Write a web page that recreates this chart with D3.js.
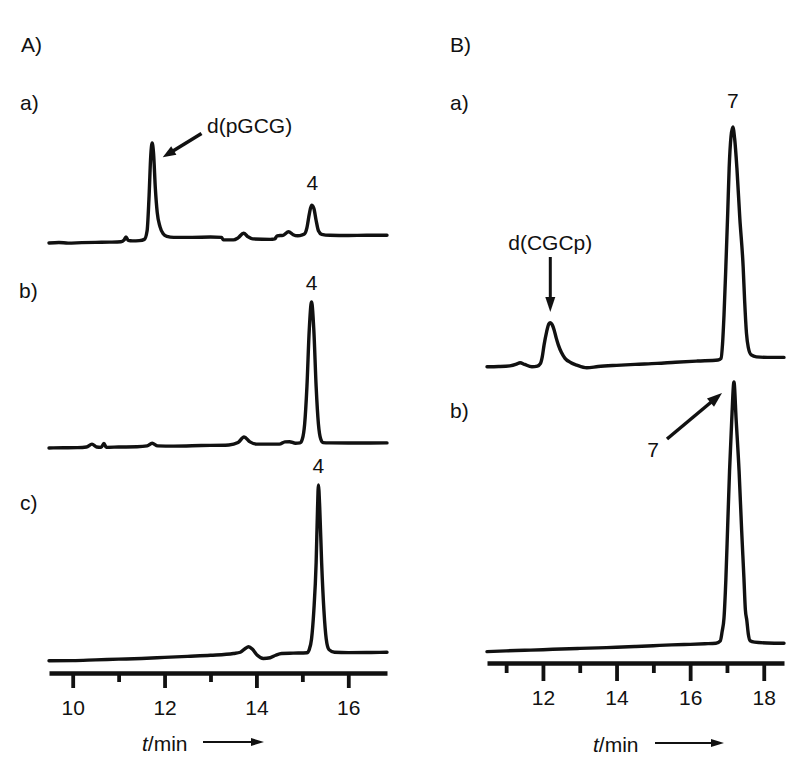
<!DOCTYPE html>
<html><head><meta charset="utf-8">
<script src="https://cdn.jsdelivr.net/npm/d3@7"></script>
<style>
html,body{margin:0;padding:0;background:#fff;}
svg text{font-family:"Liberation Sans",Arial,Helvetica,sans-serif;fill:#111;}
</style></head>
<body><svg id="chart" width="800" height="769"></svg>
<script>
// ---------- data ----------
const panelLabels = ["A)", "B)"];
const traceLabelsA = ["a)", "b)", "c)"];
const traceLabelsB = ["a)", "b)"];
const majorTicksA = [10, 12, 14, 16];
const minorTicksA = [11, 13, 15];
const majorTicksB = [12, 14, 16, 18];
const minorTicksB = [11, 13, 15, 17];
const axisTitle = "min";
// traces: [t (min), signal (relative units, 0-100)]
const traceAa = [[9.484,2],[9.7,2.5],[9.9,1.8],[10.2,2.3],[10.5,2.6],[10.8,2.8],[11.05,3.2],[11.12,5],[11.16,8],[11.21,4.5],[11.3,4],[11.45,4.3],[11.56,5.5],[11.62,14],[11.66,45],[11.7,88],[11.73,100],[11.76,90],[11.8,55],[11.84,32],[11.9,18],[11.97,11],[12.05,8.5],[12.2,7.5],[12.6,7.5],[13.0,7.8],[13.24,7.5],[13.28,5],[13.5,5],[13.6,7],[13.72,11.5],[13.82,8],[13.92,6],[14.3,5.5],[14.4,6],[14.45,9],[14.58,9.5],[14.7,13],[14.8,10],[14.9,9],[15.0,10],[15.05,11],[15.1,17],[15.15,30],[15.2,39],[15.25,36],[15.3,24],[15.35,14],[15.42,10.5],[15.6,9.5],[16.0,9.3],[16.4,9.5],[16.843,9.5]];
const traceAb = [[9.484,1.4],[9.8,1.5],[10.1,1.6],[10.3,2],[10.42,4],[10.52,2],[10.62,1.8],[10.68,4.5],[10.73,1.8],[11.0,2],[11.4,2.2],[11.62,2.8],[11.73,4.6],[11.85,2.8],[12.2,2.6],[12.8,3],[13.4,3.4],[13.6,5],[13.73,8.8],[13.86,5.5],[14.0,4],[14.5,4],[14.62,5.5],[14.72,5.6],[14.85,4.6],[14.95,4.8],[15.0,7.4],[15.05,17.5],[15.1,43],[15.15,81],[15.2,100],[15.25,81],[15.3,43],[15.35,17.5],[15.4,7.4],[15.45,5],[15.6,4.8],[16.0,4.7],[16.843,4.8]];
const traceAc = [[9.484,0.7],[10,0.8],[10.5,1.2],[11,1.6],[11.5,2],[12,2.6],[12.5,3.2],[13,3.8],[13.5,4.8],[13.65,5.5],[13.75,7.5],[13.83,8.6],[13.92,7],[14.02,3.8],[14.15,2],[14.3,2.4],[14.42,3.8],[14.55,4.8],[14.8,5],[15.1,5.2],[15.15,7],[15.2,13],[15.25,29],[15.3,56],[15.33,86],[15.35,100],[15.38,86],[15.42,56],[15.47,29],[15.52,13],[15.58,7],[15.7,5.5],[16,5.3],[16.5,5.4],[16.843,5.5]];
const traceBa = [[10.48,0.5],[10.8,0.6],[11.1,0.9],[11.28,1.6],[11.38,2.2],[11.5,1.5],[11.7,0.5],[11.85,0.8],[11.93,1.8],[11.98,4.5],[12.03,9.5],[12.1,15],[12.16,18.3],[12.2,18.8],[12.25,18],[12.3,16],[12.36,12.5],[12.42,9.5],[12.5,6.5],[12.6,4],[12.75,2.3],[12.92,1.2],[13.19,0.1],[13.5,0.6],[14.0,1.1],[14.5,1.5],[15.1,1.9],[15.6,2.4],[16.2,2.9],[16.76,3.3],[16.84,4],[16.88,10],[16.92,22],[16.97,42],[17.02,64],[17.06,83],[17.11,96],[17.16,100],[17.21,95],[17.27,83],[17.35,62],[17.44,42],[17.48,28],[17.53,14.5],[17.58,8.5],[17.66,5.4],[17.8,4.6],[18.1,4.4],[18.55,4.4]];
const traceBb = [[10.48,0.5],[11,0.8],[11.5,1],[12,1.2],[12.5,1.5],[13,1.7],[13.5,1.9],[14,2.1],[14.5,2.4],[15,2.7],[15.5,3],[16,3.2],[16.4,3.4],[16.7,3.6],[16.82,4.5],[16.87,8],[16.92,13],[16.97,27],[17.02,47],[17.07,67],[17.13,86],[17.19,100],[17.25,86],[17.33,67],[17.4,45],[17.46,28],[17.5,16],[17.54,12],[17.58,7],[17.63,4.5],[17.75,4],[18.1,3.7],[18.55,3.6]];
const annotA = ["d(pGCG)", "4", "4", "4"];
const annotB = ["d(CGCp)", "7", "7"];

// ---------- layout ----------
const svg = d3.select("#chart");
svg.append("rect").attr("width",800).attr("height",769).attr("fill","#fff");
const FS = 21;
const xA = d3.scaleLinear().domain([9.484,16.843]).range([49,387]);
const xB = d3.scaleLinear().domain([10.48,18.55]).range([487,784]);
const yAa = d3.scaleLinear().domain([0,100]).range([245,143]);
const yAb = d3.scaleLinear().domain([0,100]).range([450,302]);
const yAc = d3.scaleLinear().domain([0,100]).range([662,485]);
const yBa = d3.scaleLinear().domain([0,100]).range([368,127]);
const yBb = d3.scaleLinear().domain([0,100]).range([653,382]);

function drawTrace(data, x, y){
  const line = d3.line().x(d=>x(d[0])).y(d=>y(d[1])).curve(d3.curveMonotoneX);
  svg.append("path").datum(data).attr("d",line)
    .attr("fill","none").attr("stroke","#111").attr("stroke-width",3.4)
    .attr("stroke-linejoin","round").attr("stroke-linecap","round");
}
drawTrace(traceAa,xA,yAa); drawTrace(traceAb,xA,yAb); drawTrace(traceAc,xA,yAc);
drawTrace(traceBa,xB,yBa); drawTrace(traceBb,xB,yBb);

function drawAxis(x, yPos, major, minor, majLen, minLen){
  const gMin = svg.append("g").attr("transform",`translate(0,${yPos})`)
    .call(d3.axisBottom(x).tickValues(minor).tickSize(minLen).tickSizeOuter(0).tickFormat(""));
  gMin.select(".domain").remove();
  const g = svg.append("g").attr("transform",`translate(0,${yPos})`)
    .call(d3.axisBottom(x).tickValues(major).tickSize(majLen).tickSizeOuter(0).tickPadding(26));
  g.select(".domain").attr("stroke","#111").attr("stroke-width",4.5);
  svg.selectAll(".tick line").attr("stroke","#111").attr("stroke-width",3.8);
  g.selectAll(".tick text").attr("font-size",FS).attr("fill","#111")
    .attr("font-family","Liberation Sans, Arial, sans-serif").attr("dy",0).attr("y",42);
}
drawAxis(xA, 673, majorTicksA, minorTicksA, 15, 9);
drawAxis(xB, 663, majorTicksB, minorTicksB, 18, 10);

function arrow(x1,y1,x2,y2,w,hl,hw){
  const a = Math.atan2(y2-y1,x2-x1), c=Math.cos(a), s=Math.sin(a);
  const bx = x2 - hl*c, by = y2 - hl*s;
  svg.append("line").attr("x1",x1).attr("y1",y1).attr("x2",bx+ c*1).attr("y2",by+ s*1)
    .attr("stroke","#111").attr("stroke-width",w);
  svg.append("path").attr("d",`M${x2},${y2}L${bx - s*hw/2},${by + c*hw/2}L${bx + s*hw/2},${by - c*hw/2}Z`)
    .attr("fill","#111");
}
function text(t, x, y, anchor){
  return svg.append("text").attr("x",x).attr("y",y).attr("font-size",FS)
    .attr("text-anchor",anchor||"start").text(t);
}
// axis titles
function axisTitleAt(x, y, ax1, ax2){
  const t = svg.append("text").attr("x",x).attr("y",y).attr("font-size",FS);
  t.append("tspan").attr("font-style","italic").text("t");
  t.append("tspan").text("/" + axisTitle);
  arrow(ax1, y-9, ax2, y-9, 2, 13, 8);
}
axisTitleAt(142, 751, 203, 264);
axisTitleAt(593, 752, 655, 724);

// panel & trace labels
text(panelLabels[0], 21, 52); text(panelLabels[1], 450, 52);
text(traceLabelsA[0], 20, 110); text(traceLabelsA[1], 19, 298); text(traceLabelsA[2], 20, 510);
text(traceLabelsB[0], 450, 110); text(traceLabelsB[1], 450, 418);

// annotations
text(annotA[0], 207, 133);
arrow(201.5, 133.5, xA(11.96), yAa(86), 3.5, 13, 10);
text(annotA[1], xA(15.22), 190, "middle");
text(annotA[2], xA(15.2), 290, "middle");
text(annotA[3], xA(15.35), 473, "middle");
text(annotB[0], xB(12.2), 250, "middle");
arrow(xB(12.2), 257, xB(12.2), 312, 3, 15, 10);
text(annotB[1], xB(17.16), 108, "middle");
text(annotB[2], 653, 457, "middle");
arrow(667, 439, 722, 393, 3.5, 15, 11);
</script></body></html>
